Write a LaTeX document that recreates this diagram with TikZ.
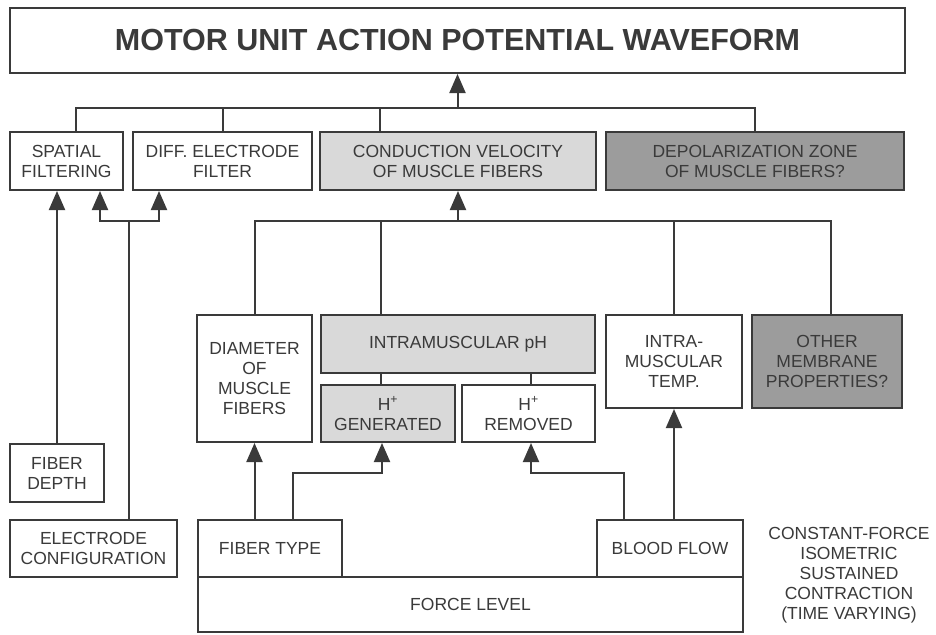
\documentclass[tikz,border=0pt]{standalone}
\usepackage{fontspec}
\setmainfont{Liberation Sans}
\usetikzlibrary{arrows.meta}
\definecolor{linec}{HTML}{3A3A3A}
\definecolor{textc}{HTML}{3A3A3A}
\definecolor{lightg}{HTML}{D9D9D9}
\definecolor{darkg}{HTML}{9C9C9C}
\begin{document}
\begin{tikzpicture}[x=1pt,y=-1pt,
  box/.style={draw=linec,line width=2pt,fill=white,align=center,inner sep=0pt,text=textc,
    font=\fontsize{17.5}{20}\selectfont},
  conn/.style={draw=linec,line width=2pt},
  arr/.style={conn,-{Triangle[width=16pt,length=19pt]}}]
\useasboundingbox (0,0) rectangle (936,634);

% nodes
\node[box,minimum width=895pt,minimum height=65pt,font=\fontsize{30.5}{34}\selectfont\bfseries] (title) at (457.5,40.5) {MOTOR UNIT ACTION POTENTIAL WAVEFORM};
\node[box,minimum width=113pt,minimum height=58pt] (spatial) at (66.5,161) {SPATIAL\\FILTERING};
\node[box,minimum width=179pt,minimum height=58pt] (diff) at (222.5,161) {DIFF. ELECTRODE\\FILTER};
\node[box,fill=lightg,minimum width=276pt,minimum height=58pt] (cond) at (458,161) {CONDUCTION VELOCITY\\OF MUSCLE FIBERS};
\node[box,fill=darkg,minimum width=298pt,minimum height=58pt] (depol) at (755,161) {DEPOLARIZATION ZONE\\OF MUSCLE FIBERS?};

\node[box,minimum width=115pt,minimum height=127pt] (diam) at (254.5,378.5) {DIAMETER\\OF\\MUSCLE\\FIBERS};
\node[box,fill=lightg,minimum width=274pt,minimum height=58pt] (ph) at (458,344) {INTRAMUSCULAR pH};
\node[box,fill=lightg,minimum width=134pt,minimum height=57pt] (hgen) at (388,413.5) {H\textsuperscript{+}\\GENERATED};
\node[box,minimum width=133pt,minimum height=57pt] (hrem) at (528.5,413.5) {H\textsuperscript{+}\\REMOVED};
\node[box,minimum width=136pt,minimum height=93pt] (temp) at (674,361.5) {INTRA-\\MUSCULAR\\TEMP.};
\node[box,fill=darkg,minimum width=150pt,minimum height=93pt] (other) at (827,361.5) {OTHER\\MEMBRANE\\PROPERTIES?};

\node[box,minimum width=94pt,minimum height=58pt] (depth) at (57,473) {FIBER\\DEPTH};
\node[box,minimum width=167pt,minimum height=57pt] (econf) at (93.5,548.5) {ELECTRODE\\CONFIGURATION};
\node[box,minimum width=545pt,minimum height=55pt] (force) at (470.5,604.5) {FORCE LEVEL};
\node[box,minimum width=144pt,minimum height=57pt] (ftype) at (270,548.5) {FIBER TYPE};
\node[box,minimum width=146pt,minimum height=57pt] (blood) at (670,548.5) {BLOOD FLOW};
\node[text=textc,align=center,inner sep=0pt,font=\fontsize{17.5}{20}\selectfont] (note) at (849,575) {CONSTANT-FORCE\\ISOMETRIC\\SUSTAINED\\CONTRACTION\\(TIME VARYING)};

% bus levels
\coordinate (bus1) at (0,108);
\coordinate (bus2) at (0,221);
\coordinate (busF) at (0,473);

% top bus
\draw[conn] ([xshift=9.5pt]spatial.north) |- (depol.north |- bus1) -- (depol.north);
\draw[conn] (diff.north) -- (diff.north |- bus1);
\draw[conn] ([xshift=-78pt]cond.north) -- ([xshift=-78pt]cond.north |- bus1);
\draw[arr] (title.south |- bus1) -- (title.south);

% left branch
\draw[arr] (depth.north) -- (depth.north |- spatial.south);
\draw[conn] ([xshift=35.5pt]econf.north) -- ([xshift=35.5pt]econf.north |- bus2);
\draw[arr] ([xshift=35.5pt]econf.north |- bus2) -| ([xshift=33.5pt]spatial.south);
\draw[arr] ([xshift=35.5pt]econf.north |- bus2) -| ([xshift=-63.5pt]diff.south);

% second bus
\draw[conn] (diam.north) |- ([xshift=4pt]other.north |- bus2) -- ([xshift=4pt]other.north);
\draw[conn] ([xshift=-77pt]ph.north) -- ([xshift=-77pt]ph.north |- bus2);
\draw[conn] (temp.north) -- (temp.north |- bus2);
\draw[arr] (cond.south |- bus2) -- (cond.south);

% pH to H+ boxes
\draw[conn] ([xshift=-7pt]hgen.north) -- ([xshift=-7pt]hgen.north |- ph.south);
\draw[conn] ([xshift=2.5pt]hrem.north) -- ([xshift=2.5pt]hrem.north |- ph.south);

% bottom arrows
\draw[arr] (diam.south |- ftype.north) -- (diam.south);
\draw[arr] ([xshift=23pt]ftype.north) |- ([xshift=-6pt]hgen.south |- busF) -- ([xshift=-6pt]hgen.south);
\draw[arr] ([xshift=-46pt]blood.north) |- ([xshift=2.5pt]hrem.south |- busF) -- ([xshift=2.5pt]hrem.south);
\draw[arr] (temp.south |- blood.north) -- (temp.south);
\end{tikzpicture}
\end{document}
